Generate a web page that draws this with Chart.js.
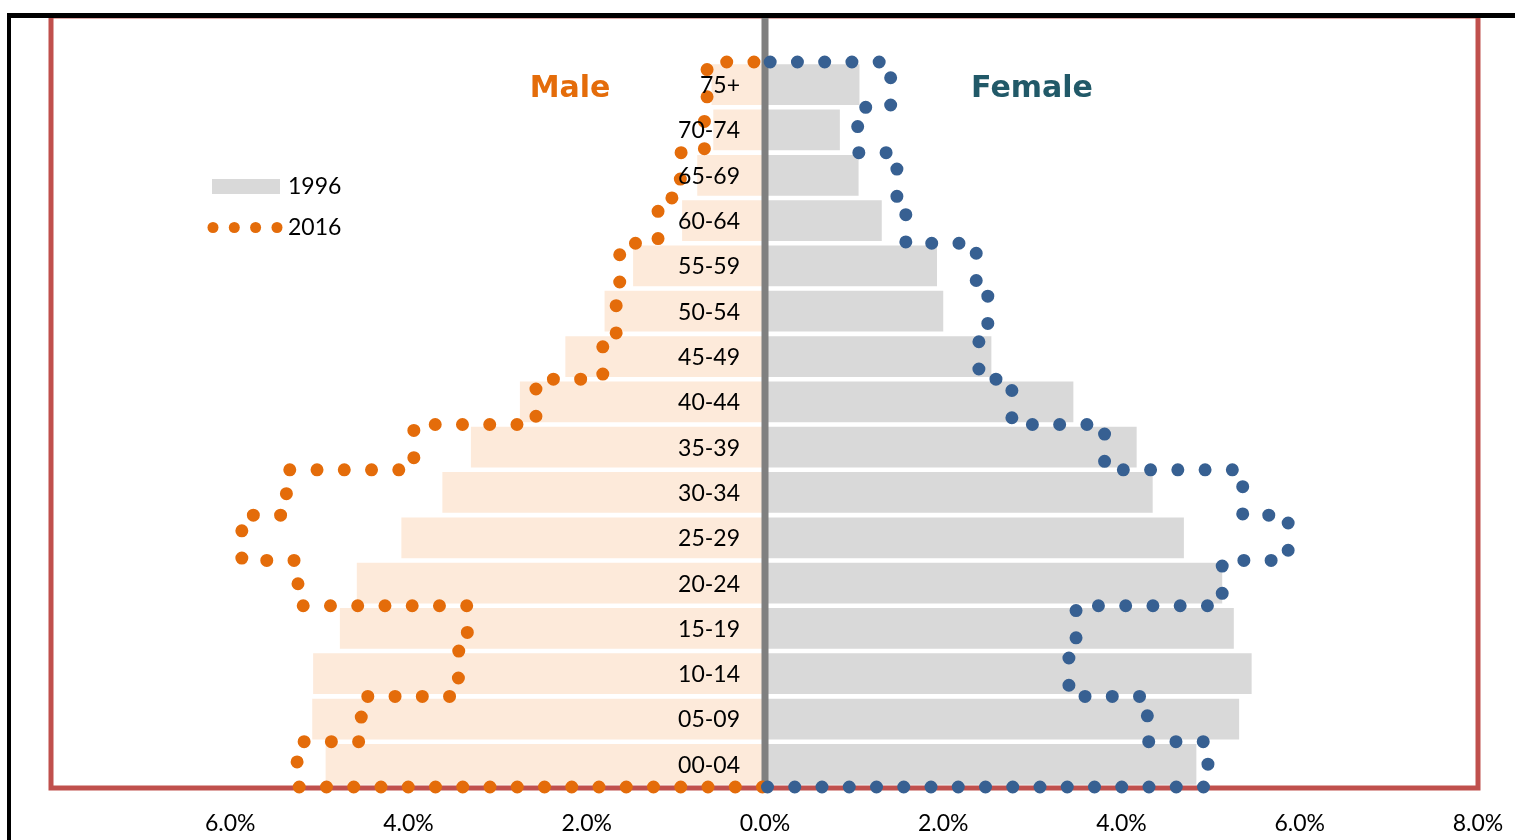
<!DOCTYPE html>
<html><head><meta charset="utf-8">
<script src="https://cdn.jsdelivr.net/npm/chart.js@4.4.1/dist/chart.umd.min.js"></script>
<style>html,body{margin:0;padding:0;background:#fff}#wrap{width:1515px;height:840px;position:relative}canvas{display:block}</style>
</head><body><div id="wrap"><canvas id="c" width="1515" height="840"></canvas></div>
<script>
// ---- data (percent of population), bottom (00-04) to top (75+) ----
const categories = ["00-04","05-09","10-14","15-19","20-24","25-29","30-34","35-39","40-44","45-49","50-54","55-59","60-64","65-69","70-74","75+"];
const male1996   = [4.93,5.08,5.07,4.77,4.58,4.08,3.62,3.30,2.75,2.24,1.80,1.48,0.93,0.76,0.58,0.60];
const female1996 = [4.84,5.32,5.46,5.26,5.13,4.70,4.35,4.17,3.46,2.54,2.00,1.93,1.31,1.05,0.84,1.06];
const male2016   = [5.25,4.53,3.44,3.34,5.24,5.87,5.37,3.94,2.57,1.82,1.67,1.63,1.20,0.95,0.68,0.65];
const female2016 = [4.97,4.29,3.41,3.49,5.13,5.87,5.36,3.81,2.77,2.40,2.50,2.37,1.58,1.48,1.04,1.41];
const xTickValues = [-8,-6,-4,-2,0,2,4,6,8];
const seriesNames = ["1996","2016"];
const sideTitles = ["Male","Female"];

const ORANGE = '#E46C0A', BLUE = '#376092', TEAL = '#215968';
const PEACH = '#FDEADA', GRAY = '#D9D9D9';
const FONT = 'Lato';

// step outline through the row boundaries (y2 axis: row i spans [i, i+1])
function outline(vals, sign) {
  const pts = [{x: 0, y: 0}];
  vals.forEach((v, i) => { pts.push({x: sign * v, y: i}); pts.push({x: sign * v, y: i + 1}); });
  pts.push({x: 0, y: vals.length});
  return pts;
}

const decor = {
  id: 'decor',
  beforeDatasetsDraw(chart) {
    const {ctx, chartArea: a} = chart;
    ctx.save();
    ctx.strokeStyle = '#C0504D';
    ctx.lineWidth = 5;
    ctx.strokeRect(a.left - 1, 16, a.right - a.left + 1, a.bottom + 1 - 16);
    ctx.restore();
    this._zeroDone = false;
  },
  beforeDatasetDraw(chart, args) {
    if (args.meta.type === 'line' && !this._zeroDone) {
      this._zeroDone = true;
      const {ctx, chartArea: a} = chart;
      const x0 = chart.scales.x.getPixelForValue(0);
      ctx.save();
      ctx.fillStyle = '#808080';
      ctx.fillRect(x0 - 3.5, 18, 7, a.bottom - 2 - 18);
      ctx.restore();
    }
  },
  afterDatasetsDraw(chart) {
    const {ctx} = chart;
    const ys = chart.scales.y;
    const x0 = chart.scales.x.getPixelForValue(0);
    ctx.save();
    ctx.fillStyle = '#000';
    ctx.font = '23px ' + FONT;
    ctx.textAlign = 'right';
    ctx.textBaseline = 'middle';
    categories.forEach((c, i) => ctx.fillText(c, x0 - 25, ys.getPixelForValue(i) + 1));
    ctx.restore();
  },
  afterDraw(chart) {
    const {ctx} = chart;
    ctx.save();
    // titles
    ctx.font = 'bold 30px "DejaVu Sans"';
    ctx.textAlign = 'center';
    ctx.textBaseline = 'middle';
    ctx.fillStyle = ORANGE; ctx.fillText(sideTitles[0], 570, 89);
    ctx.fillStyle = TEAL; ctx.fillText(sideTitles[1], 1032, 89);
    // legend
    ctx.fillStyle = GRAY; ctx.fillRect(212, 179, 68, 15);
    ctx.fillStyle = ORANGE;
    [213, 234.3, 255.6, 277].forEach(x => { ctx.beginPath(); ctx.arc(x, 227.5, 5.5, 0, Math.PI * 2); ctx.fill(); });
    ctx.fillStyle = '#000';
    ctx.font = '23px ' + FONT;
    ctx.textAlign = 'left';
    ctx.fillText(seriesNames[0], 288, 187);
    ctx.fillText(seriesNames[1], 288, 228);
    // outer frame
    ctx.fillStyle = '#000';
    ctx.fillRect(7, 13, 1508, 5);
    ctx.fillRect(7, 13, 4, 827);
    ctx.restore();
  }
};

const dotLine = { borderWidth: 13, borderDash: [0, 27.25], borderDashOffset: -2.5, borderCapStyle: 'round', borderJoinStyle: 'round', pointRadius: 0, fill: false, tension: 0, clip: false };

new Chart(document.getElementById('c'), {
  type: 'bar',
  data: {
    labels: categories,
    datasets: [
      { label: 'Male ' + seriesNames[0], data: male1996.map(v => -v), backgroundColor: PEACH, indexAxis: 'y', xAxisID: 'x', yAxisID: 'y', grouped: false, barPercentage: 0.9, categoryPercentage: 1, order: 3 },
      { label: 'Female ' + seriesNames[0], data: female1996, backgroundColor: GRAY, indexAxis: 'y', xAxisID: 'x', yAxisID: 'y', grouped: false, barPercentage: 0.9, categoryPercentage: 1, order: 3 },
      Object.assign({ type: 'line', label: 'Male ' + seriesNames[1], data: outline(male2016, -1), indexAxis: 'x', xAxisID: 'x', yAxisID: 'y2', borderColor: ORANGE, order: 1 }, dotLine),
      Object.assign({ type: 'line', label: 'Female ' + seriesNames[1], data: outline(female2016, 1), indexAxis: 'x', xAxisID: 'x', yAxisID: 'y2', borderColor: BLUE, order: 0 }, dotLine)
    ]
  },
  options: {
    indexAxis: 'y',
    responsive: false,
    animation: false,
    devicePixelRatio: 1,
    layout: { padding: { top: 62, left: 52, right: 37, bottom: 1 } },
    plugins: { legend: { display: false }, tooltip: { enabled: false } },
    scales: {
      x: {
        type: 'linear', min: -8, max: 8, offset: false,
        afterBuildTicks: s => { s.ticks = xTickValues.map(v => ({value: v})); },
        afterFit: s => { s.height = 52; s.paddingLeft = 0; s.paddingRight = 0; },
        grid: { display: false, offset: false }, border: { display: false },
        ticks: { autoSkip: false, maxRotation: 0, padding: 15, color: '#000', font: { family: FONT, size: 23 },
                 callback: v => v === -8 ? '' : Math.abs(v).toFixed(1) + '%' }
      },
      y: { type: 'category', axis: 'y', reverse: true, display: false, offset: true },
      y2: { type: 'linear', axis: 'y', min: 0, max: 16, display: false, offset: false }
    }
  },
  plugins: [decor]
});
</script>
</body></html>
